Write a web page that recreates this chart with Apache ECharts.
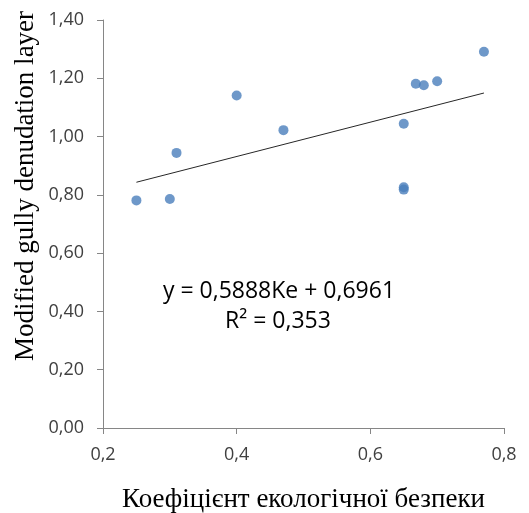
<!DOCTYPE html>
<html>
<head>
<meta charset="utf-8">
<script src="https://cdn.jsdelivr.net/npm/echarts@6/dist/echarts.min.js"></script>
<style>html,body{margin:0;padding:0;background:#fff}#c{width:529px;height:513px}</style>
</head>
<body>
<div id="c"></div>
<script>
// Data
var keValues = [0.25, 0.30, 0.31, 0.40, 0.47, 0.65, 0.65, 0.65, 0.668, 0.68, 0.70, 0.77];
var layerValues = [0.781, 0.786, 0.944, 1.141, 1.022, 1.044, 0.818, 0.826, 1.181, 1.176, 1.190, 1.291];
var trendSlope = 0.5888;
var trendIntercept = 0.6961;
var trendRange = [0.25, 0.77];
var equationText = 'y = 0,5888Ke + 0,6961';
var r2Text = 'R² = 0,353';
var xTitle = 'Коефіцієнт екологічної безпеки';
var yTitle = 'Modified gully denudation layer';

var points = keValues.map(function (x, i) { return [x, layerValues[i]]; });
var trend = trendRange.map(function (x) { return [x, trendSlope * x + trendIntercept]; });

var chart = echarts.init(document.getElementById('c'));
var axisGray = '#868686';
var labelFont = 'Open Sans';
chart.setOption({
  animation: false,
  grid: { left: 103, right: 25, top: 20, bottom: 85, outerBoundsMode: 'none', containLabel: false },
  xAxis: {
    type: 'value', min: 0.2, max: 0.8, interval: 0.2,
    splitLine: { show: false },
    axisLine: { show: true, onZero: false, lineStyle: { color: axisGray, width: 1 } },
    axisTick: { show: true, length: 6, lineStyle: { color: axisGray } },
    axisLabel: { color: '#404040', fontSize: 18, fontFamily: labelFont, margin: 18,
      formatter: function (v) { return v.toFixed(1).replace('.', ','); } },
    name: xTitle, nameLocation: 'middle', nameGap: 58,
    nameTextStyle: { fontFamily: 'Liberation Serif', fontSize: 27, color: '#000' }
  },
  yAxis: {
    type: 'value', min: 0, max: 1.4, interval: 0.2,
    splitLine: { show: false },
    axisLine: { show: true, lineStyle: { color: axisGray, width: 1 } },
    axisTick: { show: true, length: 6, lineStyle: { color: axisGray } },
    axisLabel: { color: '#404040', fontSize: 18, fontFamily: labelFont, margin: 19,
      formatter: function (v) { return v.toFixed(2).replace('.', ','); } }
  },
  series: [
    {
      type: 'line', data: trend, symbol: 'none',
      lineStyle: { color: '#262626', width: 1 }, silent: true, z: 1
    },
    {
      type: 'scatter', data: points, symbol: 'circle', symbolSize: 10,
      itemStyle: { color: '#4A7EBB' }, z: 2
    }
  ],
  graphic: [
    { type: 'text', x: 26, y: 186, rotation: Math.PI / 2,
      style: { text: yTitle, fill: '#000', font: '27px "Liberation Serif"', textAlign: 'center', textVerticalAlign: 'middle' } },
    { type: 'text', x: 279, y: 291, style: { text: equationText, fill: '#000', font: '23px "Open Sans"', textAlign: 'center', textVerticalAlign: 'middle' } },
    { type: 'text', x: 278, y: 321, style: { text: r2Text, fill: '#000', font: '23px "Open Sans"', textAlign: 'center', textVerticalAlign: 'middle' } }
  ]
});
</script>
</body>
</html>
